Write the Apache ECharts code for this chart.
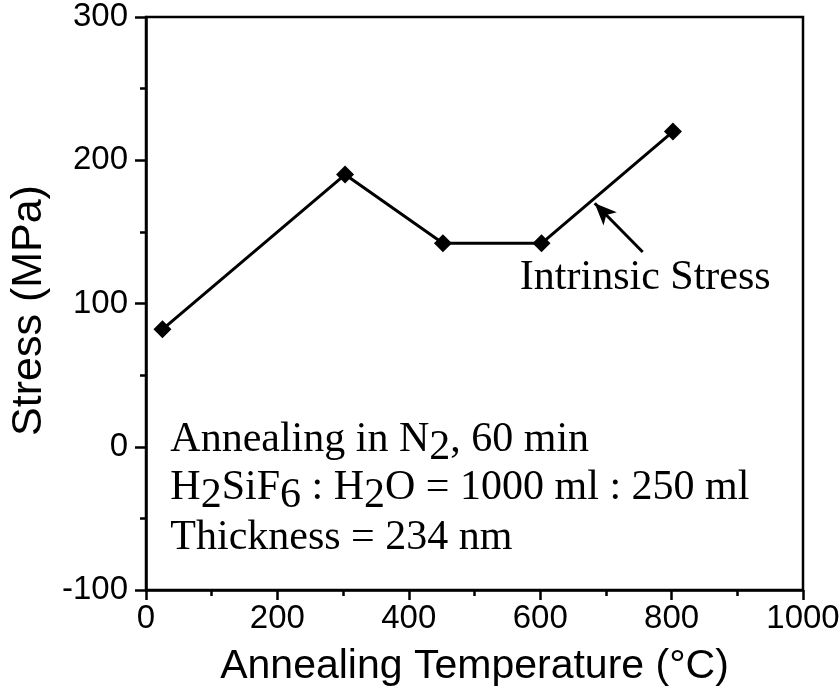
<!DOCTYPE html>
<html>
<head>
<meta charset="utf-8">
<script src="https://cdn.jsdelivr.net/npm/echarts@6/dist/echarts.min.js"></script>
<style>
  html, body { margin: 0; padding: 0; background: #fff; }
  #chart { width: 840px; height: 698px; }
</style>
</head>
<body>
<div id="chart"></div>
<script>
// annealing temperature (C) and measured stress (MPa)
var temps = [25, 303, 452, 602, 802];
var stress = [82, 190, 142, 142, 220];

var xTicks = [0, 200, 400, 600, 800, 1000];
var yTicks = [-100, 0, 100, 200, 300];

// annotation anchors, in data units
var arrowFrom = [756, 136];
var arrowTo = [683, 170];
var seriesLabelAt = [569, 118];
var noteAt = [37, [5, -28.5, -64]];

var sans = 'Liberation Sans, Arial, Helvetica, sans-serif';
var serif = 'Liberation Serif, Times New Roman, serif';

var chart = echarts.init(document.getElementById('chart'));

chart.setOption({
    animation: false,
    backgroundColor: '#fff',
    grid: {
        left: 146, top: 17, right: 37, bottom: 108,
        outerBoundsMode: 'none',
        show: true, borderColor: '#000', borderWidth: 2.5
    },
    xAxis: {
        type: 'value',
        min: xTicks[0], max: xTicks[xTicks.length - 1], interval: 200,
        name: 'Annealing Temperature (°C)',
        nameLocation: 'middle', nameGap: 56,
        nameTextStyle: { fontFamily: sans, fontSize: 41, color: '#000' },
        axisLine: { show: true, onZero: false, lineStyle: { color: '#000', width: 2.5 } },
        axisTick: { show: true, length: 10, lineStyle: { color: '#000', width: 2.5 } },
        minorTick: { show: true, splitNumber: 2, length: 6, lineStyle: { color: '#000', width: 2.5 } },
        axisLabel: { fontFamily: sans, fontSize: 33, color: '#000', margin: 12, formatter: function (v) { return String(v); } },
        splitLine: { show: false }
    },
    yAxis: {
        type: 'value',
        min: yTicks[0], max: yTicks[yTicks.length - 1], interval: 100,
        name: 'Stress (MPa)',
        nameLocation: 'middle', nameGap: 92,
        nameTextStyle: { fontFamily: sans, fontSize: 43, color: '#000', padding: [0, 14, 0, 0] },
        axisLine: { show: true, onZero: false, lineStyle: { color: '#000', width: 2.5 } },
        axisTick: { show: true, length: 11, lineStyle: { color: '#000', width: 2.5 } },
        minorTick: { show: true, splitNumber: 2, length: 6, lineStyle: { color: '#000', width: 2.5 } },
        axisLabel: { fontFamily: sans, fontSize: 33, color: '#000', margin: 18 },
        splitLine: { show: false }
    },
    series: [{
        type: 'line',
        data: temps.map(function (t, i) { return [t, stress[i]]; }),
        symbol: 'diamond',
        symbolSize: 18,
        itemStyle: { color: '#000' },
        lineStyle: { color: '#000', width: 3 },
        markLine: {
            silent: true,
            symbol: ['none', 'arrow'],
            symbolSize: [14, 22],
            label: { show: false },
            lineStyle: { color: '#000', width: 3, type: 'solid' },
            data: [[{ coord: arrowFrom }, { coord: arrowTo }]]
        }
    }]
});

// text notes placed from data coordinates
var sub = { fontFamily: serif, fontSize: 42, color: '#000', padding: [16, 0, 0, 0] };
var norm = { fontFamily: serif, fontSize: 42, color: '#000' };
var notes = [
    '{n|Annealing in N}{s|2}{n|, 60 min}',
    '{n|H}{s|2}{n|SiF}{s|6}{n| : H}{s|2}{n|O = 1000 ml : 250 ml}',
    '{n|Thickness = 234 nm}'
];

var graphic = [];
var p = chart.convertToPixel({ gridIndex: 0 }, seriesLabelAt);
graphic.push({
    type: 'text', x: p[0], y: p[1],
    style: { text: 'Intrinsic Stress', font: '42px ' + serif, fill: '#000', verticalAlign: 'middle' }
});
notes.forEach(function (txt, i) {
    var q = chart.convertToPixel({ gridIndex: 0 }, [noteAt[0], noteAt[1][i]]);
    graphic.push({
        type: 'text', x: q[0], y: q[1],
        style: { text: txt, rich: { n: norm, s: sub }, verticalAlign: 'middle', fill: '#000' }
    });
});
chart.setOption({ graphic: graphic });
</script>
</body>
</html>
